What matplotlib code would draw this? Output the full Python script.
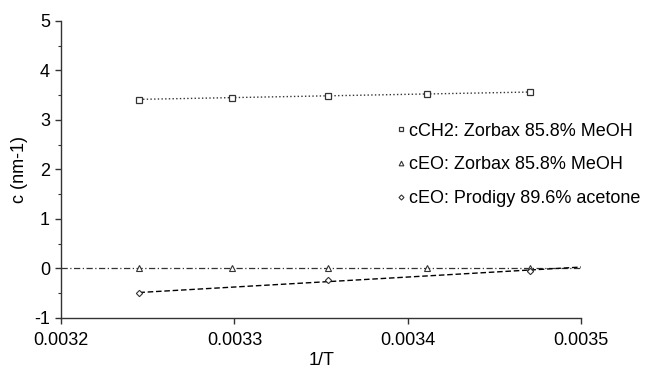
import numpy as np
import matplotlib
matplotlib.use("Agg")
import matplotlib.pyplot as plt

plt.rcParams['font.family'] = ['Liberation Sans', 'DejaVu Sans']
plt.rcParams['axes.unicode_minus'] = False

# 1/T for 35, 30, 25, 20, 15 C
inv_T = np.array([0.0032452, 0.0032987, 0.0033540, 0.0034112, 0.0034704])

c_ch2_zorbax = np.array([3.41, 3.45, 3.49, 3.52, 3.56])
c_eo_zorbax = np.array([0.0, 0.0, 0.0, 0.0, 0.0])

inv_T_prodigy = np.array([0.0032452, 0.0033540, 0.0034704])
c_eo_prodigy = np.array([-0.50, -0.24, -0.045])

labels = ["cCH2: Zorbax 85.8% MeOH",
          "cEO: Zorbax 85.8% MeOH",
          "cEO: Prodigy 89.6% acetone"]

col = "#333333"
fig = plt.figure(figsize=(6.51, 3.71), dpi=100)
ax = fig.add_axes([0.0937, 0.143, 0.799, 0.801])

# linear fits
p1 = np.polyfit(inv_T, c_ch2_zorbax, 1)
x1 = np.array([inv_T[0], inv_T[-1]])
ax.plot(x1, np.polyval(p1, x1), ':', color=col, lw=1.0)

p2 = np.polyfit(inv_T, c_eo_zorbax, 1)
x2 = np.array([0.0032, 0.0035])
ax.plot(x2, np.polyval(p2, x2), '-.', color=col, lw=0.9, dashes=(5, 2, 1, 2))

p3 = np.polyfit(inv_T_prodigy, c_eo_prodigy, 1)
x3 = np.array([inv_T_prodigy[0], 0.0035])
ax.plot(x3, np.polyval(p3, x3), '--', color='black', lw=1.0, dashes=(4, 2))

h1, = ax.plot(inv_T, c_ch2_zorbax, 's', ms=4, mfc='white', mec=col, mew=0.9, ls='none')
h2, = ax.plot(inv_T, c_eo_zorbax, '^', ms=4.2, mfc='white', mec=col, mew=0.8, ls='none')
h3, = ax.plot(inv_T_prodigy, c_eo_prodigy, 'D', ms=3.2, mfc='white', mec=col, mew=0.8, ls='none')

ax.set_xlim(0.0032, 0.0035)
ax.set_ylim(-1, 5)
ax.set_xticks([0.0032, 0.0033, 0.0034, 0.0035])
ax.set_xticklabels(["0.0032", "0.0033", "0.0034", "0.0035"])
ax.set_yticks(range(-1, 6))
ax.set_yticks(np.arange(-0.5, 5, 1.0), minor=True)

for s in ['top', 'right']:
    ax.spines[s].set_visible(False)
for s in ['left', 'bottom']:
    ax.spines[s].set_color(col)
    ax.spines[s].set_linewidth(1.0)
ax.tick_params(axis='both', which='major', direction='out', length=4, width=1,
               color=col, labelsize=13)
ax.tick_params(axis='x', which='major', pad=6)
ax.tick_params(axis='y', which='major', pad=4)
ax.tick_params(axis='y', which='minor', direction='out', length=2, width=0.8, color=col)

ax.set_xlabel("1/T", fontsize=13, labelpad=2)
ax.set_ylabel("c (nm-1)", fontsize=13, labelpad=4)

ax.legend([h1, h2, h3], labels, loc='upper left', bbox_to_anchor=(0.61, 0.669),
          bbox_transform=fig.transFigure, frameon=False, fontsize=13,
          handlelength=0.4, handletextpad=0.25, labelspacing=0.92, markerscale=0.8,
          borderaxespad=0, borderpad=0)

fig.savefig("out.png", dpi=100)
